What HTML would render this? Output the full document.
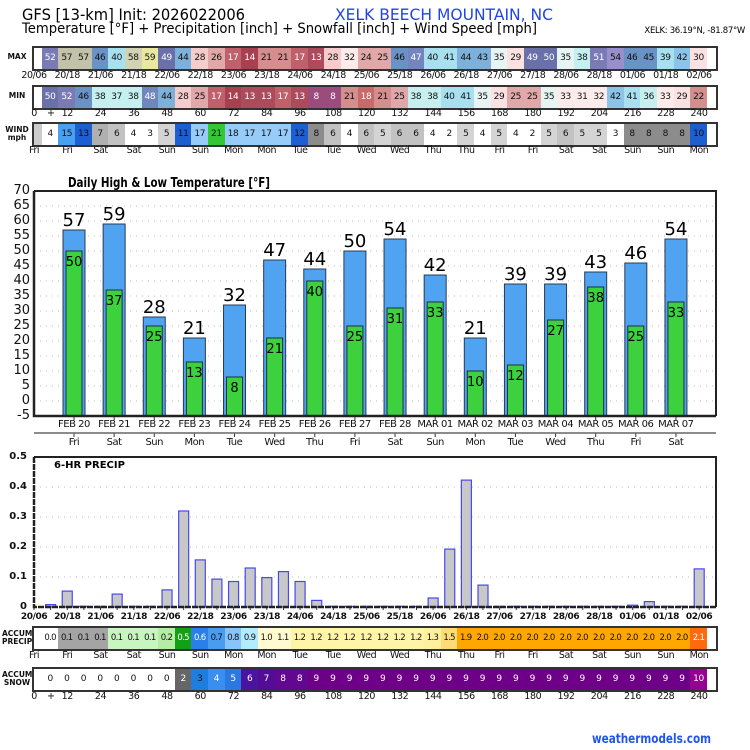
<!DOCTYPE html>
<html><head><meta charset="utf-8">
<style>
html,body{margin:0;padding:0;background:#fff;}
#w{position:relative;width:750px;height:750px;overflow:hidden;font-family:"DejaVu Sans","Liberation Sans",sans-serif;color:#111;}
svg{position:absolute;left:0;top:0;}
.strip{position:absolute;left:32px;width:686px;height:25px;border:2px solid #333;box-sizing:border-box;display:flex;font-size:9px;line-height:21px;background:#fff;}
.strip b{width:7.8px;flex:none;}
.strip i{font-style:normal;width:16.63px;flex:none;text-align:center;letter-spacing:-0.4px;overflow:hidden;white-space:nowrap;}
.strip.ap i{font-size:8.5px;letter-spacing:-0.7px;}
.strip u{flex:1;}
.lab{position:absolute;left:17.4px;display:flex;font-size:9.5px;line-height:12px;letter-spacing:-0.4px;}
.lab span{width:33.26px;flex:none;text-align:center;}
.lab2{position:absolute;left:53.9px;display:flex;font-size:10px;line-height:12px;letter-spacing:-0.5px;}
.lab2 span{width:40.13px;flex:none;text-align:center;}
.side{position:absolute;left:2px;width:30px;text-align:center;font-size:7.5px;font-weight:bold;line-height:8px;}
.yl{position:absolute;width:30px;text-align:right;font-size:13px;line-height:14px;}
.pl{position:absolute;width:27px;text-align:right;font-size:10px;font-weight:bold;line-height:12px;}
</style></head><body><div id="w">
<svg id="s" width="750" height="750" viewBox="0 0 750 750" font-family="DejaVu Sans, Liberation Sans, sans-serif">
<text x="22" y="20" font-size="16" textLength="223" lengthAdjust="spacingAndGlyphs">GFS [13-km] Init: 2026022006</text>
<text x="335" y="20" font-size="16" fill="#2244ee" textLength="218" lengthAdjust="spacingAndGlyphs">XELK BEECH MOUNTAIN, NC</text>
<text x="22" y="33" font-size="14" textLength="515" lengthAdjust="spacingAndGlyphs">Temperature [°F] + Precipitation [inch] + Snowfall [inch] + Wind Speed [mph]</text>
<text x="745" y="33" font-size="8.5" text-anchor="end" letter-spacing="-0.3">XELK: 36.19°N, -81.87°W</text>
<text x="68" y="187" font-size="13.5" font-weight="bold" textLength="202" lengthAdjust="spacingAndGlyphs">Daily High &amp; Low Temperature [°F]</text>
<g id="tb"></g>
<g font-size="18" text-anchor="middle">
<text x="74" y="226">57</text><text x="114.1" y="220">59</text><text x="154.3" y="313">28</text><text x="194.4" y="334">21</text><text x="234.5" y="301">32</text><text x="274.7" y="256">47</text><text x="314.8" y="265">44</text><text x="354.9" y="247">50</text><text x="395" y="235">54</text><text x="435.2" y="271">42</text><text x="475.3" y="334">21</text><text x="515.4" y="280">39</text><text x="555.6" y="280">39</text><text x="595.7" y="268">43</text><text x="635.8" y="259">46</text><text x="676" y="235">54</text>
</g>
<g font-size="13" text-anchor="middle">
<text x="74" y="266">50</text><text x="114.1" y="305">37</text><text x="154.3" y="341">25</text><text x="194.4" y="377">13</text><text x="234.5" y="392">8</text><text x="274.7" y="353">21</text><text x="314.8" y="296">40</text><text x="354.9" y="341">25</text><text x="395" y="323">31</text><text x="435.2" y="317">33</text><text x="475.3" y="386">10</text><text x="515.4" y="380">12</text><text x="555.6" y="335">27</text><text x="595.7" y="302">38</text><text x="635.8" y="341">25</text><text x="676" y="317">33</text>
</g>
<text x="54" y="468" font-size="10" font-weight="bold">6-HR PRECIP</text>
<g id="pb"></g>
<text x="592" y="743" font-size="13" font-weight="bold" fill="#2255ee" textLength="119" lengthAdjust="spacingAndGlyphs">weathermodels.com</text>
</svg>

<div class="side" style="top:53px">MAX</div>
<div class="side" style="top:92px">MIN</div>
<div class="side" style="top:126px">WIND<br>mph</div>
<div class="side" style="top:630px">ACCUM<br>PRECIP</div>
<div class="side" style="top:671px">ACCUM<br>SNOW</div>

<div class="strip t" style="top:46px"><b></b><i>52</i><i>57</i><i>57</i><i>46</i><i>40</i><i>58</i><i>59</i><i>49</i><i>44</i><i>28</i><i>26</i><i>17</i><i>14</i><i>21</i><i>21</i><i>17</i><i>13</i><i>28</i><i>32</i><i>24</i><i>25</i><i>46</i><i>47</i><i>40</i><i>41</i><i>44</i><i>43</i><i>35</i><i>29</i><i>49</i><i>50</i><i>35</i><i>38</i><i>51</i><i>54</i><i>46</i><i>45</i><i>39</i><i>42</i><i>30</i><u></u></div>
<div class="lab" style="top:70px"><span>20/06</span><span>20/18</span><span>21/06</span><span>21/18</span><span>22/06</span><span>22/18</span><span>23/06</span><span>23/18</span><span>24/06</span><span>24/18</span><span>25/06</span><span>25/18</span><span>26/06</span><span>26/18</span><span>27/06</span><span>27/18</span><span>28/06</span><span>28/18</span><span>01/06</span><span>01/18</span><span>02/06</span></div>

<div class="strip t" style="top:85px"><b></b><i>50</i><i>52</i><i>46</i><i>38</i><i>37</i><i>38</i><i>48</i><i>44</i><i>28</i><i>25</i><i>17</i><i>14</i><i>13</i><i>13</i><i>17</i><i>13</i><i>8</i><i>8</i><i>21</i><i>18</i><i>21</i><i>25</i><i>38</i><i>38</i><i>40</i><i>41</i><i>35</i><i>29</i><i>25</i><i>25</i><i>35</i><i>33</i><i>31</i><i>32</i><i>42</i><i>41</i><i>36</i><i>33</i><i>29</i><i>22</i><u></u></div>
<div class="lab" style="top:108px"><span>0</span><span>12</span><span>24</span><span>36</span><span>48</span><span>60</span><span>72</span><span>84</span><span>96</span><span>108</span><span>120</span><span>132</span><span>144</span><span>156</span><span>168</span><span>180</span><span>192</span><span>204</span><span>216</span><span>228</span><span>240</span></div>
<div style="position:absolute;left:47px;top:108px;font-size:9.5px;line-height:12px">+</div>

<div class="strip wd" style="top:122px"><b style="background:#ccc"></b><i>4</i><i>15</i><i>13</i><i>7</i><i>6</i><i>4</i><i>3</i><i>5</i><i>11</i><i>17</i><i>21</i><i>18</i><i>17</i><i>17</i><i>17</i><i>12</i><i>8</i><i>6</i><i>4</i><i>6</i><i>5</i><i>6</i><i>6</i><i>4</i><i>2</i><i>5</i><i>4</i><i>5</i><i>4</i><i>2</i><i>5</i><i>6</i><i>5</i><i>5</i><i>3</i><i>8</i><i>8</i><i>8</i><i>8</i><i>10</i><u></u></div>
<div class="lab" style="top:145px"><span>Fri</span><span>Fri</span><span>Sat</span><span>Sat</span><span>Sun</span><span>Sun</span><span>Mon</span><span>Mon</span><span>Tue</span><span>Tue</span><span>Wed</span><span>Wed</span><span>Thu</span><span>Thu</span><span>Fri</span><span>Fri</span><span>Sat</span><span>Sat</span><span>Sun</span><span>Sun</span><span>Mon</span></div>

<div class="yl" style="left:0;top:184px">70</div><div class="yl" style="left:0;top:199px">65</div><div class="yl" style="left:0;top:214px">60</div><div class="yl" style="left:0;top:229px">55</div><div class="yl" style="left:0;top:244px">50</div><div class="yl" style="left:0;top:259px">45</div><div class="yl" style="left:0;top:274px">40</div><div class="yl" style="left:0;top:289px">35</div><div class="yl" style="left:0;top:304px">30</div><div class="yl" style="left:0;top:319px">25</div><div class="yl" style="left:0;top:334px">20</div><div class="yl" style="left:0;top:349px">15</div><div class="yl" style="left:0;top:364px">10</div><div class="yl" style="left:0;top:379px">5</div><div class="yl" style="left:0;top:394px">0</div><div class="yl" style="left:0;top:409px">-5</div>

<div class="lab2" style="top:419px"><span>FEB 20</span><span>FEB 21</span><span>FEB 22</span><span>FEB 23</span><span>FEB 24</span><span>FEB 25</span><span>FEB 26</span><span>FEB 27</span><span>FEB 28</span><span>MAR 01</span><span>MAR 02</span><span>MAR 03</span><span>MAR 04</span><span>MAR 05</span><span>MAR 06</span><span>MAR 07</span></div>
<div class="lab2" style="top:437px"><span>Fri</span><span>Sat</span><span>Sun</span><span>Mon</span><span>Tue</span><span>Wed</span><span>Thu</span><span>Fri</span><span>Sat</span><span>Sun</span><span>Mon</span><span>Tue</span><span>Wed</span><span>Thu</span><span>Fri</span><span>Sat</span></div>

<div class="pl" style="left:0;top:451px">0.5</div><div class="pl" style="left:0;top:481px">0.4</div><div class="pl" style="left:0;top:511px">0.3</div><div class="pl" style="left:0;top:541px">0.2</div><div class="pl" style="left:0;top:571px">0.1</div><div class="pl" style="left:0;top:601px">0</div>
<div class="lab" style="top:611px;font-weight:bold;font-size:9px"><span>20/06</span><span>20/18</span><span>21/06</span><span>21/18</span><span>22/06</span><span>22/18</span><span>23/06</span><span>23/18</span><span>24/06</span><span>24/18</span><span>25/06</span><span>25/18</span><span>26/06</span><span>26/18</span><span>27/06</span><span>27/18</span><span>28/06</span><span>28/18</span><span>01/06</span><span>01/18</span><span>02/06</span></div>

<div class="strip ap" style="top:626px"><b></b><i>0.0</i><i style="background:#a4a4a4">0.1</i><i style="background:#a4a4a4">0.1</i><i style="background:#a4a4a4">0.1</i><i style="background:#c8f5c0">0.1</i><i style="background:#c8f5c0">0.1</i><i style="background:#c8f5c0">0.1</i><i style="background:#b4eea4">0.2</i><i style="background:#14a014;color:#fff">0.5</i><i style="background:#2a80e8;color:#fff">0.6</i><i style="background:#4a9cf0">0.7</i><i style="background:#88c4f8">0.8</i><i style="background:#b4ecff">0.9</i><i style="background:#fffad0">1.0</i><i style="background:#fffad0">1.1</i><i style="background:#fff4a8">1.2</i><i style="background:#fff4a8">1.2</i><i style="background:#fff4a8">1.2</i><i style="background:#fff4a8">1.2</i><i style="background:#fff4a8">1.2</i><i style="background:#fff4a8">1.2</i><i style="background:#fff4a8">1.2</i><i style="background:#fff4a8">1.2</i><i style="background:#fff0a0">1.3</i><i style="background:#ffdc78">1.5</i><i style="background:#ffa600">1.9</i><i style="background:#ffa600">2.0</i><i style="background:#ffa600">2.0</i><i style="background:#ffa600">2.0</i><i style="background:#ffa600">2.0</i><i style="background:#ffa600">2.0</i><i style="background:#ffa600">2.0</i><i style="background:#ffa600">2.0</i><i style="background:#ffa600">2.0</i><i style="background:#ffa600">2.0</i><i style="background:#ffa600">2.0</i><i style="background:#ffa600">2.0</i><i style="background:#ffa600">2.0</i><i style="background:#ffa600">2.0</i><i style="background:#ff6a10;color:#fff">2.1</i><u></u></div>
<div class="lab" style="top:650px"><span>Fri</span><span>Fri</span><span>Sat</span><span>Sat</span><span>Sun</span><span>Sun</span><span>Mon</span><span>Mon</span><span>Tue</span><span>Tue</span><span>Wed</span><span>Wed</span><span>Thu</span><span>Thu</span><span>Fri</span><span>Fri</span><span>Sat</span><span>Sat</span><span>Sun</span><span>Sun</span><span>Mon</span></div>

<div class="strip sn" style="top:667px"><b></b><i>0</i><i>0</i><i>0</i><i>0</i><i>0</i><i>0</i><i>0</i><i>0</i><i style="background:#666;color:#fff">2</i><i style="background:#1e7ee0">3</i><i style="background:#3a8ef0;color:#fff">4</i><i style="background:#2a78e0;color:#fff">5</i><i style="background:#4a14a0;color:#fff">6</i><i style="background:#520c96;color:#fff">7</i><i style="background:#620890;color:#fff">8</i><i style="background:#620890;color:#fff">8</i><i>9</i><i>9</i><i>9</i><i>9</i><i>9</i><i>9</i><i>9</i><i>9</i><i>9</i><i>9</i><i>9</i><i>9</i><i>9</i><i>9</i><i>9</i><i>9</i><i>9</i><i>9</i><i>9</i><i>9</i><i>9</i><i>9</i><i>9</i><i style="background:#960090;color:#fff">10</i><u></u></div>
<div class="lab" style="top:691px"><span>0</span><span>12</span><span>24</span><span>36</span><span>48</span><span>60</span><span>72</span><span>84</span><span>96</span><span>108</span><span>120</span><span>132</span><span>144</span><span>156</span><span>168</span><span>180</span><span>192</span><span>204</span><span>216</span><span>228</span><span>240</span></div>
<div style="position:absolute;left:47px;top:691px;font-size:9.5px;line-height:12px">+</div>

<script>
(function(){
var NS="http://www.w3.org/2000/svg",s=document.getElementById('s');
function el(p,t,a){var e=document.createElementNS(NS,t);for(var k in a)e.setAttribute(k,a[k]);p.appendChild(e);return e;}
function tc(t){
 var m=[[8,'#9a4c7c',1],[13,'#ad4a5c',1],[14,'#a84050',1],[17,'#c0606a',1],[18,'#c86a6a',1],[22,'#d48e8e',0],[26,'#e0a8a8',0],[28,'#f4cccc',0],[30,'#fbe2e2',0],[33,'#fcebeb',0],[35,'#e6f4f4',0],[38,'#c6f0f0',0],[41,'#a8e0f0',0],[42,'#8cc4e8',0],[44,'#7eb0da',0],[46,'#6a92c4',0],[47,'#7484bc',1],[48,'#6f86bf',1],[50,'#6a70a8',1],[52,'#7a7ab4',1],[54,'#9890cc',0],[57,'#c2c2aa',0],[58,'#d2d2b4',0],[99,'#e8e8a0',0]];
 for(var i=0;i<m.length;i++)if(t<=m[i][0])return m[i];}
document.querySelectorAll('.t i').forEach(function(e){var c=tc(+e.textContent);e.style.background=c[1];if(c[2])e.style.color='#fff';});
document.querySelectorAll('.wd i').forEach(function(e){var v=+e.textContent,c='#fff';
 if(v>=21)c='#33c833';else if(v>=16)c='#98ccf8';else if(v>=14)c='#4aa0f0';else if(v>=10)c='#1d5fd0';else if(v>=8)c='#8c8c8c';else if(v>=7)c='#b0b0b0';else if(v>=6)c='#c2c2c2';else if(v>=5)c='#d4d4d4';
 e.style.background=c;});
document.querySelectorAll('.sn i').forEach(function(e){if(e.textContent=='9'){e.style.background='#6e0088';e.style.color='#fff';}});
[67,106,143,647,688].forEach(function(y){for(var j=0;j<=40;j++){var x=34+16.63*j;el(s,'line',{x1:x,x2:x,y1:y,y2:y+3,stroke:'#333','stroke-width':1});}});
var g=document.getElementById('tb');
for(var T=-5;T<=70;T+=5){var y=401-3*T;el(g,'line',{x1:34,x2:716,y1:y,y2:y,stroke:'#bbb','stroke-dasharray':'1 5','stroke-width':1});}
var hi=[57,59,28,21,32,47,44,50,54,42,21,39,39,43,46,54],lo=[50,37,25,13,8,21,40,25,31,33,10,12,27,38,25,33];
for(var i=0;i<16;i++){var cx=74+40.13*i;
 el(g,'rect',{x:cx-11,y:401-3*hi[i],width:22,height:15+3*hi[i],fill:'#4fa3f1',stroke:'#2b3a55','stroke-width':1});
 el(g,'rect',{x:cx-8,y:401-3*lo[i],width:16,height:15+3*lo[i],fill:'#3dd13d',stroke:'#1f2f3f','stroke-width':1});
 el(g,'line',{x1:cx,x2:cx,y1:416,y2:420,stroke:'#333'});
 el(g,'line',{x1:cx,x2:cx,y1:433,y2:437,stroke:'#333'});}
el(g,'path',{d:'M34 191H716V416',fill:'none',stroke:'#222','stroke-width':2});
el(g,'path',{d:'M34 191V416H716',fill:'none',stroke:'#222','stroke-width':2.5});
el(g,'line',{x1:34,x2:716,y1:433,y2:433,stroke:'#666','stroke-width':1.5});
var p=document.getElementById('pb');
[0.1,0.2,0.3,0.4].forEach(function(v){var y=607-300*v;el(p,'line',{x1:34,x2:716,y1:y,y2:y,stroke:'#bbb','stroke-dasharray':'1 5'});});
var pr=[.008,.053,0,0,.043,.002,0,.057,.32,.157,.093,.085,.13,.098,.118,.085,.022,0,0,0,0,0,0,.03,.193,.423,.073,0,0,0,0,0,0,0,0,.006,.018,0,0,.127];
for(var k=1;k<=40;k++){var cx=34+16.63*k,v=pr[k-1];
 if(v>0.003)el(p,'rect',{x:cx-5,y:607-300*v,width:10,height:300*v,fill:'#c8c8c8',stroke:'#4848f0','stroke-width':1.2});
 else el(p,'line',{x1:cx-5,x2:cx+5,y1:606.5,y2:606.5,stroke:'#4848f0','stroke-width':1.5});}
for(var j=0;j<=40;j++){var x=34+16.63*j;el(p,'line',{x1:x,x2:x,y1:607,y2:610,stroke:'#333'});}
el(p,'path',{d:'M34 457H716V607',fill:'none',stroke:'#222','stroke-width':2});
el(p,'path',{d:'M34 457V607H716',fill:'none',stroke:'#222','stroke-width':2.5,'stroke-dasharray':'6 1'});
})();
</script>
</div></body></html>
